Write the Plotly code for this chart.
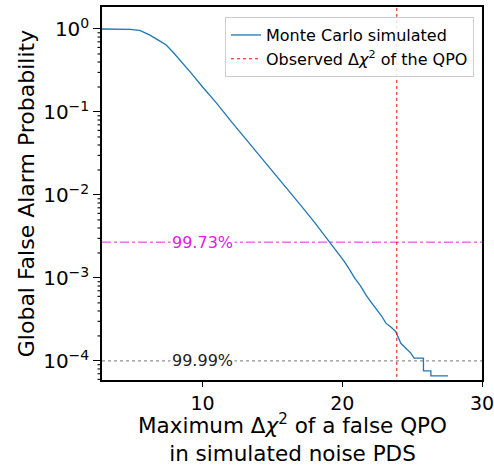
import math
import plotly.graph_objects as go

# Monte Carlo survival curve (max delta chi^2 vs global false alarm probability)
mc_dchi2 = [2.8, 4.0, 4.8, 5.5, 6.2, 6.8, 7.4, 8.0, 8.6, 9.2, 10.0, 11.0, 12.0, 13.0, 14.0,
            15.0, 16.0, 17.0, 18.0, 19.1, 19.6, 20.14, 20.5, 20.9, 21.3, 21.69, 22.1, 22.4,
            22.8, 23.12, 23.5, 23.83, 24.0, 24.19, 24.55, 24.9, 25.14, 25.81, 25.81, 26.34,
            26.34, 27.57]
mc_prob = [1.0, 0.9995, 0.991, 0.96, 0.85, 0.74, 0.64, 0.50, 0.386, 0.292, 0.20, 0.128, 0.0785,
           0.0495, 0.031, 0.0195, 0.0122, 0.0076, 0.0047, 0.0027, 0.0021, 0.00158, 0.00128,
           0.00099, 0.00080, 0.000624, 0.00050, 0.00043, 0.00035, 0.000285, 0.000255,
           0.000225, 0.000190, 0.000163, 0.000142, 0.000124, 0.000108, 0.000108, 0.000076,
           0.000076, 0.000066, 0.000066]

observed_dchi2 = 23.9
sig_levels = [0.9973, 0.9999]
sig_labels = ["99.73%", "99.99%"]
sig_colors = ["#ee22ee", "#777777"]
sig_text_colors = ["#e020e0", "#222222"]
sig_dashes = ["dashdot", "dot"]

ytick_vals = [1, 0.1, 0.01, 0.001, 0.0001]
ytick_text = ["10<sup>0</sup>", "10<sup>−1</sup>", "10<sup>−2</sup>", "10<sup>−3</sup>", "10<sup>−4</sup>"]
ytick_minor = [m * 10 ** e for e in range(-5, 1) for m in range(2, 10)]
xtick_vals = [10, 20, 30]
y_range = [-4.23, 0.265]
x_title = "Maximum Δ<i>χ</i><sup>2</sup> of a false QPO<br>in simulated noise PDS"

FONT = "DejaVu Sans"
PLOT_W = 494 - 102 - 12

fig = go.Figure()
fig.add_trace(go.Scatter(x=mc_dchi2, y=mc_prob, mode="lines",
                         line=dict(color="#1f77b4", width=1.3),
                         name="Monte Carlo simulated"))
fig.add_trace(go.Scatter(x=[observed_dchi2, observed_dchi2], y=[1e-6, 10], mode="lines",
                         line=dict(color="red", width=1, dash="dot"),
                         name="Observed Δ<i>χ</i><sup>2</sup> of the QPO"))

for lvl, lab, col, tcol, dsh in zip(sig_levels, sig_labels, sig_colors, sig_text_colors, sig_dashes):
    p = 1 - lvl
    fig.add_hline(y=p, line=dict(color=col, width=1, dash=dsh), layer="below")
    fig.add_annotation(x=10, y=math.log10(p), text=lab, showarrow=False,
                       font=dict(family=FONT, size=16, color=tcol), bgcolor="white",
                       borderpad=1, xanchor="center", yanchor="middle")

# minor log ticks on the y axis (drawn as short paper-anchored tick lines)
for v in ytick_minor:
    if y_range[0] < math.log10(v) < y_range[1]:
        fig.add_shape(type="line", xref="paper", yref="y", x0=-4.5 / PLOT_W, x1=0, y0=v, y1=v,
                      line=dict(color="black", width=1.1))

fig.add_annotation(x=0.5, y=0, xref="paper", yref="paper", text=x_title, showarrow=False,
                   xanchor="center", yanchor="top", yshift=-28, align="center",
                   font=dict(family=FONT, size=21.5, color="black"))

fig.update_layout(
    width=494, height=465,
    margin=dict(l=102, r=12, t=7, b=85),
    paper_bgcolor="white", plot_bgcolor="white",
    font=dict(family=FONT, size=20, color="black"),
    showlegend=True,
    legend=dict(x=0.979, y=0.973, xanchor="right", yanchor="top",
                bgcolor="rgba(255,255,255,0.85)", bordercolor="#cccccc", borderwidth=1,
                font=dict(family=FONT, size=16), tracegroupgap=0),
    xaxis=dict(range=[2.8, 30], tickvals=xtick_vals, ticks="outside", ticklen=5,
               tickwidth=1.2, tickcolor="black",
               showgrid=False, zeroline=False, showline=True, linecolor="black",
               linewidth=1.5, mirror=True, tickfont=dict(size=19), automargin=False,
               ticklabeloverflow="allow"),
    yaxis=dict(type="log", range=y_range, tickvals=ytick_vals, ticktext=ytick_text,
               ticks="outside", ticklen=7, tickwidth=1.2, tickcolor="black",
               showgrid=False, zeroline=False, showline=True,
               linecolor="black", linewidth=1.5, mirror=True, tickfont=dict(size=20),
               automargin=False,
               title=dict(text="Global False Alarm Probability", font=dict(size=22), standoff=2)),
)

fig.write_html("out.html")
